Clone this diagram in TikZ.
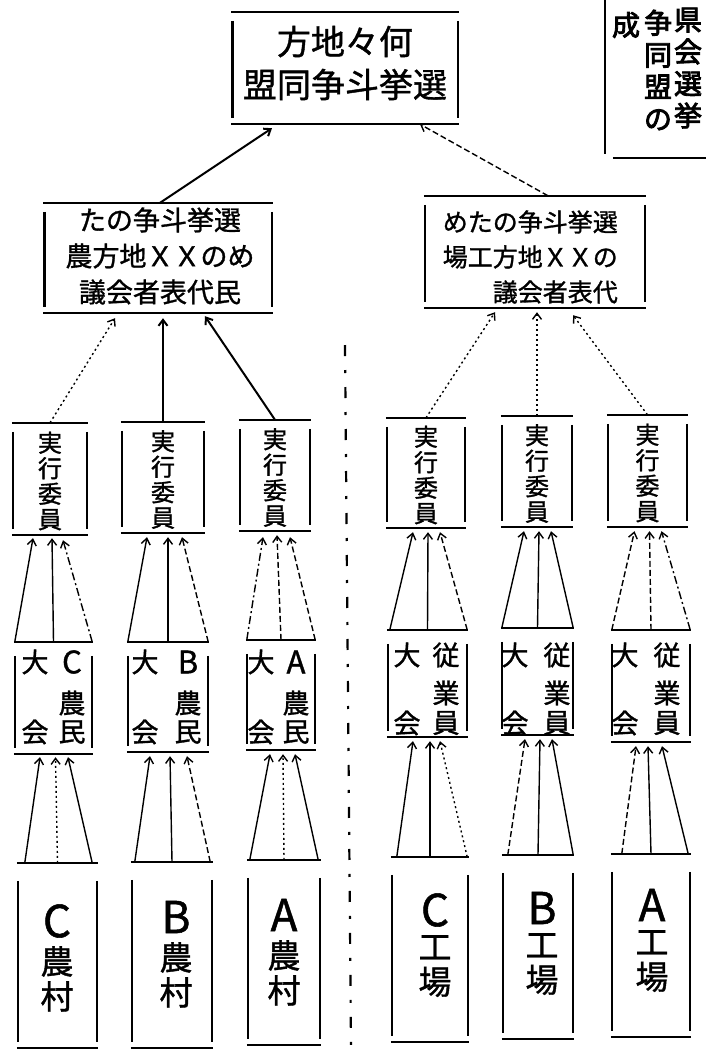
\documentclass[tikz,border=0pt]{standalone}
\usepackage{fontspec}
\newfontfamily\jp{Noto Sans CJK JP}[FakeBold=1.2]
\newfontfamily\jpb{Noto Sans CJK JP}[FakeBold=3]
\usetikzlibrary{arrows.meta,calc}
\tikzset{
  boxline/.style={line width=2.4pt},
  bx/.style n args={2}{inner sep=0pt,minimum width=#1pt,minimum height=#2pt},
  arr/.style={line width=1.4pt,-{Straight Barb[length=6pt,width=9pt]}},
  sarr/.style={arr,line width=2pt},
  darr/.style={arr,dash pattern=on 6pt off 3pt},
  dtarr/.style={arr,dash pattern=on 2pt off 3pt},
  ddarr/.style={arr,dash pattern=on 8pt off 3pt on 2pt off 3pt},
  jt/.style={font=\jp\fontsize{27}{27}\selectfont,inner sep=0pt},
  vt/.style={font=\jp\fontsize{24}{25.5}\selectfont,inner sep=0pt,align=center},
  trt/.style={font=\jpb\fontsize{28}{32}\selectfont,inner sep=0pt,align=center},
  divider/.style={line width=2.2pt,dash pattern=on 11pt off 14pt on 3pt off 14pt},
}
\newcommand\skbox[2][9]{%
  \draw[boxline] ([xshift=-1pt]#2.north west) -- ([xshift=1pt]#2.north east);
  \draw[boxline] ([xshift=-1pt]#2.south west) -- ([xshift=1pt]#2.south east);
  \draw[boxline] ([yshift=-#1pt]#2.north west) -- ([yshift=6pt]#2.south west);
  \draw[boxline] ([yshift=-#1pt]#2.north east) -- ([yshift=6pt]#2.south east);}
\newcommand\fourtext[9]{%
  \node[jt] (#1a) at (#2,#4) {大};
  \node[jt] (#1b) at (#3,#4) {#7};
  \node[jt] (#1c) at (#3,#5) {#8};
  \node[jt] (#1d) at (#2,#6) {会};
  \node[jt] (#1e) at (#3,#6) {#9};}
\newcommand\fivetext[5]{%
  \node[font=\jp\fontsize{44}{44}\selectfont,inner sep=0pt] (#1a) at (#2,#3) {#4};
  \node[font=\jp\fontsize{33}{35}\selectfont,inner sep=0pt,align=center,anchor=north] (#1b) at (#2,#3+25) {#5};}
\begin{document}
\begin{tikzpicture}[x=1pt,y=-1pt]
\fill[white] (0,0) rectangle (705,1050);
\useasboundingbox (0,0) rectangle (705,1050);

% ---------- top box ----------
\node[bx={225}{112}] (T) at (345,68) {};
\node[font=\jp\fontsize{34}{43}\selectfont,align=center,inner sep=0pt] (Tt) at (345,63) {方地々何\\盟同争斗挙選};
\skbox{T}

% ---------- top right partial box ----------
\node[bx={110}{175}] (TR) at (660,70) {};
\draw[boxline] (TR.north west) -- ([yshift=4pt]TR.south west);
\draw[boxline] ([xshift=8pt]TR.south west) -- (TR.south east);
\node[trt] (TR1) at (688,68) {県\\会\\選\\挙};
\node[trt] (TR2) at (658,70) {争\\同\\盟\\の};
\node[trt] (TR3) at (626,25) {成};

% ---------- middle boxes ----------
\node[bx={227}{110}] (L) at (158,258) {};
\node[font=\jp\fontsize{27}{36}\selectfont,align=center,inner sep=0pt] (Lt) at (160,256) {たの争斗挙選\\農方地ＸＸのめ\\議会者表代民};
\skbox{L}
\node[bx={220}{112}] (R) at (535,252) {};
\node[font=\jp\fontsize{25}{35}\selectfont,align=right,inner sep=0pt,anchor=east] (Rt) at (618,257) {めたの争斗挙選\\場工方地ＸＸの\\議会者表代};
\skbox{R}

\draw[sarr] ($(L.north)+(2,0)$) -- ($(T.south)+(-73,4)$);
\draw[darr] ($(R.north)+(13,0)$) -- ($(T.south)+(75,0)$);

% ---------- row 3: 実行委員 ----------
\foreach \n/\x/\y/\w/\h in {c3l1/50/479/74/112, c3l2/163/477.5/82/111, c3l3/275/475.5/70/111,
                            c3r1/426/473/78/110, c3r2/537/471.5/70/111, c3r3/647.5/471/79/112}{
  \node[bx={\w}{\h}] (\n) at (\x,\y) {};
  \node[vt] (\n t) at (\x,\y+2) {実\\行\\委\\員};
  \skbox{\n}
}
\draw[dtarr] (c3l1.north) -- ($(L.south)+(-43,5)$);
\draw[sarr]  (c3l2.north) -- ($(L.south)+(5,5)$);
\draw[sarr]  (c3l3.north) -- ($(L.south)+(47,3)$);
\draw[dtarr] (c3r1.north) -- ($(R.south)+(-40,4)$);
\draw[dtarr] (c3r2.north) -- ($(R.south)+(2,4)$);
\draw[dtarr] (c3r3.north) -- ($(R.south)+(38,7)$);

% ---------- row 4: 大会 ----------
\foreach \n/\x/\y/\w/\h in {c4l1/53.5/698/77/112, c4l2/168/697/80/110, c4l3/281/695/68/110,
                            c4r1/427.5/683.5/79/107, c4r2/537.5/681.5/71/107, c4r3/651/686/78/112}{
  \node[bx={\w}{\h}] (\n) at (\x,\y) {};
  \skbox[14]{\n}
}
\fourtext{t4l1}{35}{72}{662}{703}{732}{\fontsize{31}{31}\selectfont C}{農}{民}
\fourtext{t4l2}{145}{188}{662}{703}{732}{\fontsize{31}{31}\selectfont B}{農}{民}
\fourtext{t4l3}{261}{296}{662}{703}{732}{\fontsize{31}{31}\selectfont A}{農}{民}
\fourtext{t4r1}{407}{446}{655}{693}{723}{従}{業}{員}
\fourtext{t4r2}{515}{557}{655}{693}{723}{従}{業}{員}
\fourtext{t4r3}{625}{667}{655}{693}{723}{従}{業}{員}

% fans row4 -> row3
\draw[arr]   (c4l1.north west) -- ($(c3l1.south)+(-17,3)$);
\draw[arr]   (c4l1.north) -- ($(c3l1.south)+(2,3)$);
\draw[ddarr] (c4l1.north east) -- ($(c3l1.south)+(13,5)$);
\draw[arr]   (c4l2.north west) -- ($(c3l2.south)+(-16,4)$);
\draw[arr]   (c4l2.north) -- ($(c3l2.south)+(5,4)$);
\draw[darr]  (c4l2.north east) -- ($(c3l2.south)+(19,4)$);
\draw[ddarr] (c4l3.north west) -- ($(c3l3.south)+(-12,6)$);
\draw[darr]  (c4l3.north) -- ($(c3l3.south)+(2,4)$);
\draw[darr]  (c4l3.north east) -- ($(c3l3.south)+(15,6)$);
\draw[arr]   ($(c4r1.north west)+(2,0)$) -- ($(c3r1.south)+(-13,4)$);
\draw[arr]   (c4r1.north) -- ($(c3r1.south)+(2,4)$);
\draw[darr]  (c4r1.north east) -- ($(c3r1.south)+(14,4)$);
\draw[arr]   (c4r2.north west) -- ($(c3r2.south)+(-13,4)$);
\draw[arr]   (c4r2.north) -- ($(c3r2.south)+(2,4)$);
\draw[arr]   (c4r2.north east) -- ($(c3r2.south)+(14,4)$);
\draw[darr]  (c4r3.north west) -- ($(c3r3.south)+(-13,4)$);
\draw[darr]  (c4r3.north) -- ($(c3r3.south)+(2,4)$);
\draw[ddarr] (c4r3.north east) -- ($(c3r3.south)+(14,4)$);

% ---------- row 5: villages / factories ----------
\foreach \n/\x/\y/\w/\h in {c5l1/57.5/955.5/79/185, c5l2/172/955/80/186, c5l3/284/952.5/72/185,
                            c5r1/430/949.5/76/185, c5r2/538/947/70/184, c5r3/651/945.5/78/183}{
  \node[bx={\w}{\h}] (\n) at (\x,\y) {};
  \skbox[18]{\n}
}
\fivetext{t5l1}{57}{921}{C}{農\\村}
\fivetext{t5l2}{176}{917}{B}{農\\村}
\fivetext{t5l3}{284}{915}{A}{農\\村}
\fivetext{t5r1}{435}{910}{C}{工\\場}
\fivetext{t5r2}{542}{908}{B}{工\\場}
\fivetext{t5r3}{652}{905}{A}{工\\場}

% fans row5 -> row4
\draw[arr]   ($(c5l1.north west)+(7,0)$) -- ($(c4l1.south)+(-13.5,3)$);
\draw[dtarr] (c5l1.north) -- ($(c4l1.south)+(2,3)$);
\draw[arr]   ($(c5l1.north east)+(-5,0)$) -- ($(c4l1.south)+(14.5,3)$);
\draw[arr]   ($(c5l2.north west)+(3,0)$) -- ($(c4l2.south)+(-18,4)$);
\draw[arr]   (c5l2.north) -- ($(c4l2.south)+(2,4)$);
\draw[darr]  ($(c5l2.north east)+(-2,0)$) -- ($(c4l2.south)+(19,4)$);
\draw[arr]   ($(c5l3.north west)+(2,0)$) -- ($(c4l3.south)+(-11,4)$);
\draw[dtarr] (c5l3.north) -- ($(c4l3.south)+(2,4)$);
\draw[arr]   ($(c5l3.north east)+(-2,0)$) -- ($(c4l3.south)+(14,4)$);
\draw[arr]   ($(c5r1.north west)+(5,0)$) -- ($(c4r1.south)+(-14.5,4)$);
\draw[arr]   (c5r1.north) -- ($(c4r1.south)+(2.5,4)$);
\draw[dtarr] ($(c5r1.north east)+(-1,0)$) -- ($(c4r1.south)+(12.5,4)$);
\draw[darr]  ($(c5r2.north west)+(5,0)$) -- ($(c4r2.south)+(-12.5,4)$);
\draw[arr]   (c5r2.north) -- ($(c4r2.south)+(2.5,4)$);
\draw[arr]   (c5r2.north east) -- ($(c4r2.south)+(14.5,4)$);
\draw[darr]  ($(c5r3.north west)+(10,0)$) -- ($(c4r3.south)+(-15,4)$);
\draw[arr]   (c5r3.north) -- ($(c4r3.south)+(-3,4)$);
\draw[arr]   ($(c5r3.north east)+(-2,0)$) -- ($(c4r3.south)+(11,4)$);

% ---------- divider ----------
\coordinate (d1) at (345,345);
\coordinate (d2) at (351,1045);
\draw[divider] (d1) -- (d2);
\end{tikzpicture}
\end{document}
